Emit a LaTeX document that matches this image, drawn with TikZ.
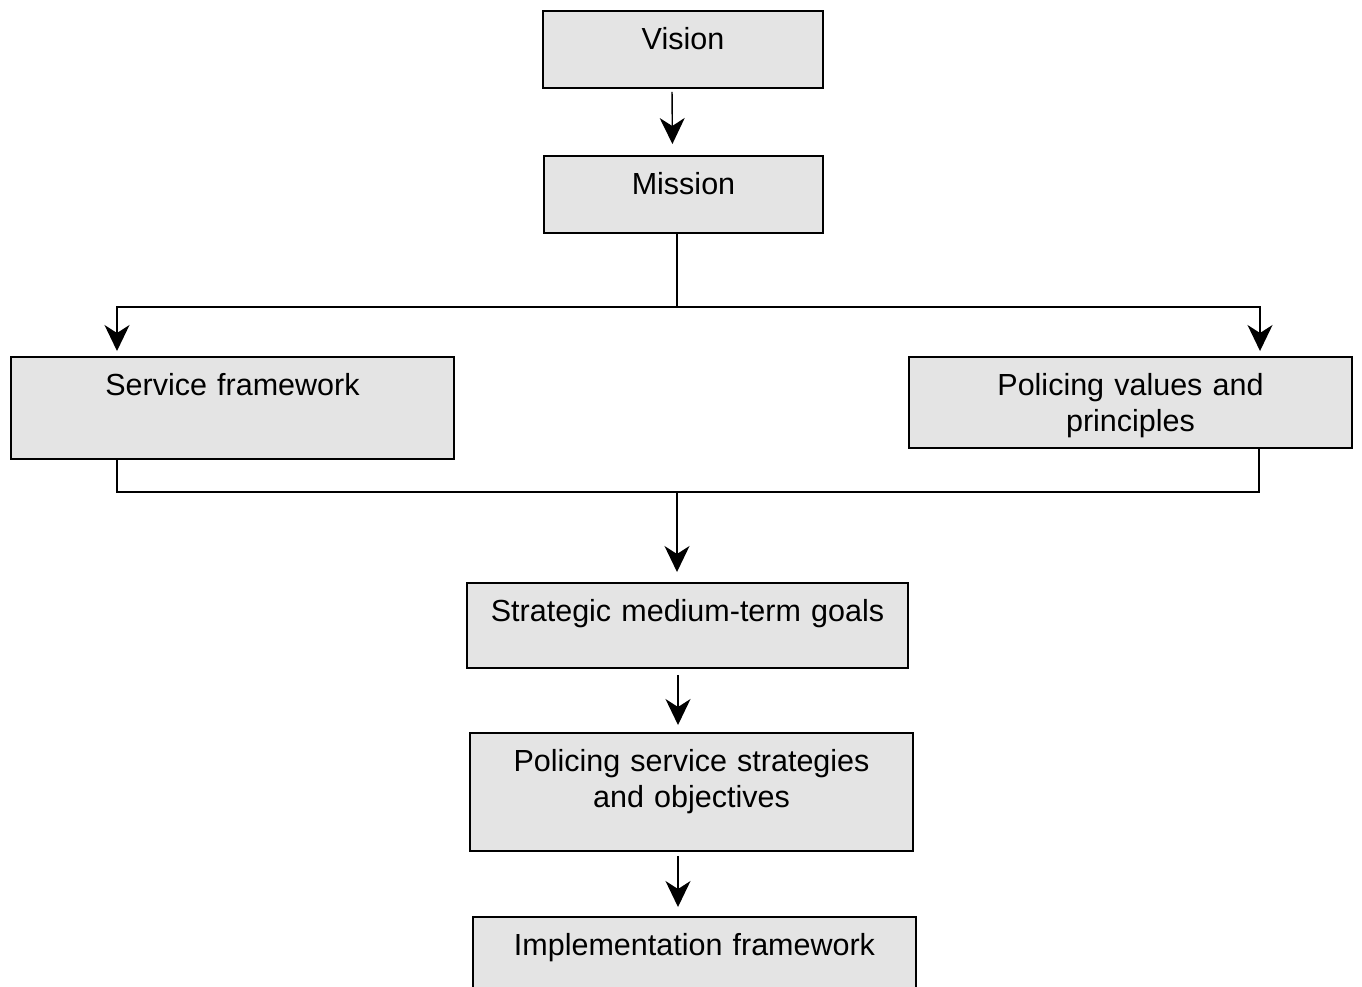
\documentclass[tikz,border=0pt]{standalone}
\usepackage{fontspec}
\setmainfont{Liberation Sans}
\usetikzlibrary{arrows.meta}

\begin{document}
\begin{tikzpicture}[x=1pt,y=-1pt,
  every node/.style={font=\fontsize{30.5}{35.5}\selectfont},
  box/.style={draw,line width=1.8pt,fill=gray!21,anchor=north,inner xsep=0pt,
    inner ysep=19pt,text height=20pt,align=center},
  link/.style={line width=1.4pt},
  arr/.style={link,-{Stealth[length=26pt,width=25pt,inset=8pt]}}]
  \useasboundingbox[fill=white] (0,0) rectangle (1362,986);
  \node[box,text width=280pt,text depth=19pt] (vision) at (683,10) {Vision};
  \node[box,text width=279pt,text depth=19pt] (mission) at (683.5,155) {Mission};
  \node[box,text width=443pt,text depth=44pt] (service) at (232.5,356) {Service framework};
  \node[box,text width=443pt,text depth=33pt] (values) at (1130.5,356)
    {Policing values and\\principles};
  \node[box,text width=441pt,text depth=27pt] (goals) at (687.5,582)
    {Strategic medium-term goals};
  \node[box,text width=443pt,text depth=60pt] (strategies) at (691.5,732)
    {Policing service strategies\\and objectives};
  \node[box,text width=443pt,text depth=32pt] (impl) at (694.5,916)
    {Implementation framework};
  \coordinate (split) at (677,307);
  \coordinate (merge) at (677,492);
  \draw[arr,shorten <=3pt,shorten >=11pt] ([xshift=-11pt]vision.south) -- ([xshift=-11pt]mission.north);
  \draw[link] ([xshift=-6.5pt]mission.south) -- (split);
  \draw[arr,shorten >=5pt] (split) -| ([xshift=-115.5pt]service.north);
  \draw[arr,shorten >=5pt] (split) -| ([xshift=129.5pt]values.north);
  \draw[link] ([xshift=-115.5pt]service.south) |- (merge) -| ([xshift=128.5pt]values.south);
  \draw[arr,shorten >=10pt] (merge) -- (merge |- goals.north);
  \draw[arr,shorten <=6pt,shorten >=7pt] ([xshift=-9.5pt]goals.south) -- ([xshift=-13.5pt]strategies.north);
  \draw[arr,shorten <=4pt,shorten >=9pt] ([xshift=-13.5pt]strategies.south) -- ([xshift=-16.5pt]impl.north);
\end{tikzpicture}
\end{document}
